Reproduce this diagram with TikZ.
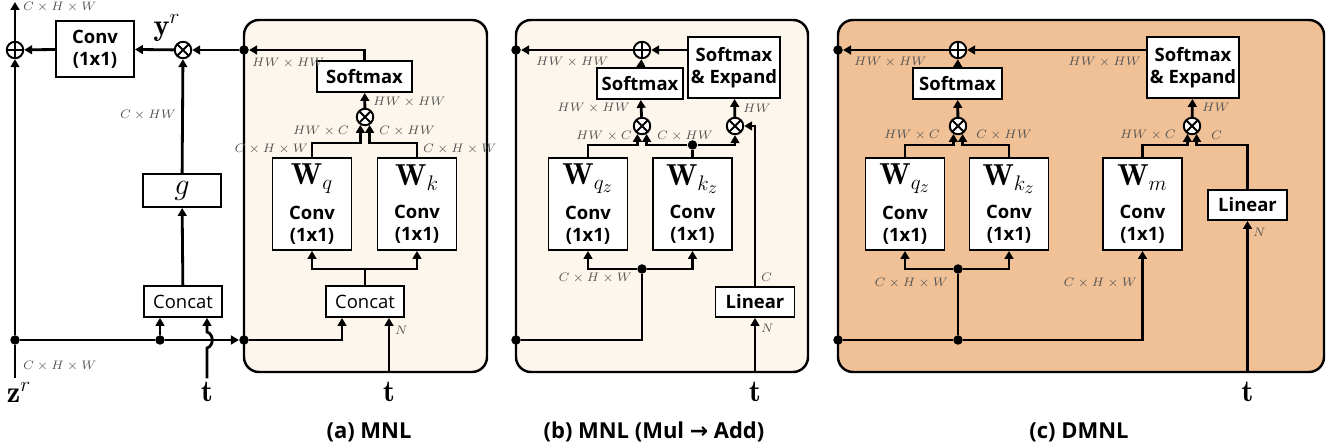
\documentclass[tikz,border=0pt]{standalone}
\usepackage{fontspec}
\newfontfamily\nsans{Open Sans}
\newfontfamily\arrowfont{DejaVu Sans}
\usetikzlibrary{arrows.meta}

\definecolor{cream}{HTML}{FDF6EC}
\definecolor{dmnlfill}{HTML}{F0C196}
\definecolor{dimtext}{HTML}{555555}

\tikzset{
  blk/.style={draw,line width=1.1pt,fill=white,align=center,inner sep=0pt,
    font=\nsans\bfseries\fontsize{10.5}{12.5}\selectfont},
  plainblk/.style={blk,font=\nsans\fontsize{10.5}{12.5}\selectfont},
  wbox/.style={blk,minimum width=1.58cm,minimum height=1.84cm},
  conn/.style={line width=1.6pt,-{Triangle[length=4.5pt,width=5pt]}},
  wire/.style={line width=1.6pt},
  dot/.style={circle,fill,inner sep=0pt,minimum size=0.19cm},
  opnode/.style={circle,draw,fill=white,line width=1.1pt,minimum size=0.33cm,inner sep=0pt},
  otimes/.style={opnode,path picture={
    \draw[line width=1.1pt] (path picture bounding box.north west) -- (path picture bounding box.south east)
      (path picture bounding box.north east) -- (path picture bounding box.south west);}},
  oplus/.style={opnode,path picture={
    \draw[line width=1.1pt] (path picture bounding box.north) -- (path picture bounding box.south)
      (path picture bounding box.east) -- (path picture bounding box.west);}},
  dim/.style={font=\scriptsize,text=dimtext,inner sep=1pt},
  bigsym/.style={font=\LARGE,inner sep=2pt},
  panel/.style={line width=1.4pt,rounded corners=0.3cm},
  subcap/.style={font=\nsans\bfseries\fontsize{12.5}{14}\selectfont}
}

\begin{document}
\begin{tikzpicture}[x=0.02cm,y=-0.02cm]
\useasboundingbox (0,0) rectangle (1332,448);

% panels
\draw[panel,fill=cream] (244,20) rectangle (487,372);
\draw[panel,fill=cream] (516,20) rectangle (808,372);
\draw[panel,fill=dmnlfill] (838,20) rectangle (1324,372);

%% (a) outer path
\node[oplus] (sum) at (15,50) {};
\node[blk,minimum width=1.56cm,minimum height=1.12cm] (convy) at (95,49) {Conv\\(1x1)};
\node[otimes] (mul) at (183,50) {};
\node[dot] (da1) at (244,50) {};
\node[blk,font=\LARGE,minimum width=1.56cm,minimum height=0.66cm] (g) at (182,190.5) {$g$};
\node[plainblk,minimum width=1.56cm,minimum height=0.62cm] (cat) at (183,301.5) {Concat};
\node[dot] (dz) at (15,340) {};
\node[dot] (dc) at (160,340) {};
\node[dot] (da2) at (244,340) {};
\node[bigsym] (zr) at (19,392) {$\mathbf{z}^r$};
\node[bigsym] (t1) at (207,392) {$\mathbf{t}$};
\node[bigsym] (yr) at (167,28) {$\mathbf{y}^r$};
\coordinate (out) at (15,2);

\draw[conn] (sum) -- (out);
\draw[conn] (convy) -- (sum);
\draw[conn] (mul) -- (convy);
\draw[conn] (da1) -- (mul);
\draw[conn] (g) -- (mul);
\draw[conn] (cat) -- (g);
\draw[conn] (dz) -- (sum);
\draw[wire] (dz) -- (dz |- zr.north);
\draw[wire] (dz) -- (dc);
\draw[conn] (dc) -- (da2);
\draw[conn] (dc) -- (dc |- cat.south);
\draw[conn] (t1) -- (207,348) .. controls (214,346) and (214,334) .. (207,332) -- (t1 |- cat.south);

\node[dim,anchor=west] at (21,7.5) {$C\times H\times W$};
\node[dim,anchor=west] at (21,366) {$C\times H\times W$};
\node[dim,anchor=east] at (178,115) {$C\times HW$};

%% (a) MNL block
\node[blk,minimum width=1.9cm,minimum height=0.62cm] (smA) at (364.5,76.5) {Softmax};
\node[otimes] (mA) at (365,117) {};
\node[wbox] (wqA) at (312,204) {{\LARGE$\mathbf{W}_q$}\\[6pt]Conv\\(1x1)};
\node[wbox] (wkA) at (417,204) {{\LARGE$\mathbf{W}_k$}\\[6pt]Conv\\(1x1)};
\node[plainblk,minimum width=1.56cm,minimum height=0.62cm] (catA) at (365,301.5) {Concat};
\coordinate (jA) at (365,269);
\coordinate (tA) at (389,372);
\node[bigsym] (t2) at (389,392) {$\mathbf{t}$};

\draw[conn] (smA) |- (da1);
\draw[conn] (mA) -- (smA);
\draw[conn] (wqA) -- (312,143) -| (mA.-120);
\draw[conn] (wkA) -- (417,143) -| (mA.-60);
\draw[wire] (catA) -- (jA);
\draw[conn] (jA) -| (wqA);
\draw[conn] (jA) -| (wkA);
\draw[conn] (da2) -| ([xshift=-0.46cm]catA.south);
\draw[conn] (tA) -- (tA |- catA.south);

\node[dim,anchor=west] at (250,63) {$HW\times HW$};
\node[dim,anchor=west] at (371,102) {$HW\times HW$};
\node[dim,anchor=east] at (351,131) {$HW\times C$};
\node[dim,anchor=west] at (377,131) {$C\times HW$};
\node[dim,anchor=east] at (310,149) {$C\times H\times W$};
\node[dim,anchor=west] at (421,149) {$C\times H\times W$};
\node[dim,anchor=west] at (393,330) {$N$};
\node[subcap] at (369,432) {(a) MNL};

%% (b) MNL (Mul -> Add)
\node[dot] (db1) at (516,50) {};
\node[dot] (db2) at (516,340) {};
\node[oplus] (sB) at (642,50) {};
\node[blk,minimum width=1.72cm,minimum height=0.62cm] (smB) at (640,83.5) {Softmax};
\node[blk,minimum width=1.84cm,minimum height=1.22cm] (seB) at (734,67.5) {Softmax\\\& Expand};
\node[otimes] (m1B) at (642,126) {};
\node[otimes] (m2B) at (735,126) {};
\node[wbox] (wqB) at (588,204) {{\LARGE$\mathbf{W}_{q_z}$}\\[6pt]Conv\\(1x1)};
\node[wbox] (wkB) at (692.5,204) {{\LARGE$\mathbf{W}_{k_z}$}\\[6pt]Conv\\(1x1)};
\node[blk,minimum width=1.58cm,minimum height=0.6cm] (linB) at (755,302) {Linear};
\node[dot] (dkB) at (692.5,145) {};
\node[dot] (dcB) at (642,269) {};
\coordinate (tB) at (755,372);
\node[bigsym] (t3) at (755,392) {$\mathbf{t}$};

\draw[conn] (seB.west |- sB) -- (sB);
\draw[conn] (sB) -- (db1);
\draw[conn] (smB) -- (sB);
\draw[conn] (m1B) -- (smB);
\draw[conn] (m2B) -- (seB);
\draw[conn] (wqB) -- (588,145) -| (m1B.-120);
\draw[wire] (wkB) -- (dkB);
\draw[conn] (dkB) -| (m1B.-60);
\draw[conn] (dkB) -| (m2B);
\draw[conn] (linB) |- (m2B);
\draw[wire] (db2) -| (dcB);
\draw[conn] (dcB) -| (wqB);
\draw[conn] (dcB) -| (wkB);
\draw[conn] (tB) -- (linB);

\node[dim,anchor=west] at (534,62) {$HW\times HW$};
\node[dim,anchor=east] at (632,108) {$HW\times HW$};
\node[dim,anchor=west] at (741,108) {$HW$};
\node[dim,anchor=east] at (634,136) {$HW\times C$};
\node[dim,anchor=west] at (655,136) {$C\times HW$};
\node[dim,anchor=east] at (634,278) {$C\times H\times W$};
\node[dim,anchor=west] at (759,277) {$C$};
\node[dim,anchor=west] at (759,328) {$N$};
\node[subcap] at (654,432) {(b) MNL (Mul {\arrowfont\bfseries →} Add)};

%% (c) DMNL
\node[dot] (dc1) at (838,50) {};
\node[dot] (dc2) at (838,340) {};
\node[oplus] (sC) at (958,50) {};
\node[blk,minimum width=1.78cm,minimum height=0.62cm] (smC) at (957.5,83.5) {Softmax};
\node[blk,minimum width=1.84cm,minimum height=1.22cm] (seC) at (1193,67.5) {Softmax\\\& Expand};
\node[otimes] (m1C) at (958,126) {};
\node[otimes] (m2C) at (1192,126) {};
\node[wbox] (wqC) at (905,204) {{\LARGE$\mathbf{W}_{q_z}$}\\[6pt]Conv\\(1x1)};
\node[wbox] (wkC) at (1009,204) {{\LARGE$\mathbf{W}_{k_z}$}\\[6pt]Conv\\(1x1)};
\node[wbox] (wmC) at (1142.5,204) {{\LARGE$\mathbf{W}_{m}$}\\[6pt]Conv\\(1x1)};
\node[blk,minimum width=1.58cm,minimum height=0.6cm] (linC) at (1247.5,205) {Linear};
\node[dot] (dmC) at (958,340) {};
\node[dot] (duC) at (958,269) {};
\coordinate (tCc) at (1247.5,372);
\node[bigsym] (t4) at (1247.5,392) {$\mathbf{t}$};

\draw[conn] (seC.west |- sC) -- (sC);
\draw[conn] (sC) -- (dc1);
\draw[conn] (smC) -- (sC);
\draw[conn] (m1C) -- (smC);
\draw[conn] (m2C) -- (seC);
\draw[conn] (wqC) -- (905,145) -| (m1C.-120);
\draw[conn] (wkC) -- (1009,145) -| (m1C.-60);
\draw[conn] (wmC) -- (1142.5,145) -| (m2C.-120);
\draw[conn] (linC) -- (1247.5,145) -| (m2C.-60);
\draw[wire] (dc2) -- (dmC);
\draw[conn] (dmC) -| (wmC);
\draw[wire] (dmC) -- (duC);
\draw[conn] (duC) -| (wqC);
\draw[conn] (duC) -| (wkC);
\draw[conn] (tCc) -- (linC);

\node[dim,anchor=west] at (852,62) {$HW\times HW$};
\node[dim,anchor=east] at (1143,62) {$HW\times HW$};
\node[dim,anchor=west] at (1200,107) {$HW$};
\node[dim,anchor=east] at (942,135) {$HW\times C$};
\node[dim,anchor=west] at (974,135) {$C\times HW$};
\node[dim,anchor=east] at (1178,135) {$HW\times C$};
\node[dim,anchor=west] at (1209,135) {$C$};
\node[dim,anchor=east] at (950,283) {$C\times H\times W$};
\node[dim,anchor=east] at (1139,283) {$C\times H\times W$};
\node[dim,anchor=west] at (1251,232) {$N$};
\node[subcap] at (1079,432) {(c) DMNL};
\end{tikzpicture}
\end{document}
